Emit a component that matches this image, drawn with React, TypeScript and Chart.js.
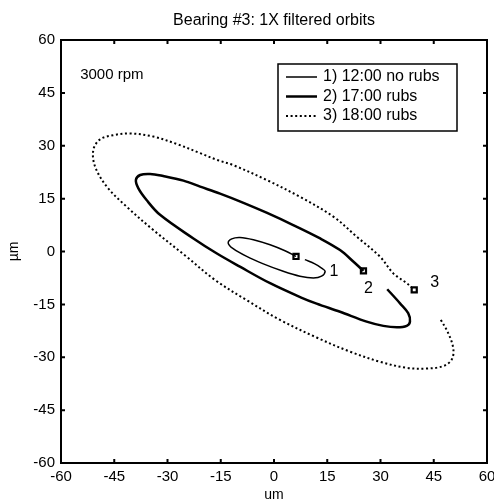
import React, { useEffect, useRef } from "react";
import { Chart, registerables } from "chart.js";

Chart.register(...registerables);

const TITLE = "Bearing #3: 1X filtered orbits";
const X_TITLE = "um";
const Y_TITLE = "µm";
const NOTE = "3000 rpm";
const TICKS = [-60, -45, -30, -15, 0, 15, 30, 45, 60];

const SERIES_LABELS = ["1) 12:00 no rubs", "2) 17:00 rubs", "3) 18:00 rubs"];

const orbit1X = [8.7, 11.5, 13.4, 14.4, 13.4, 11.1, 7.3, 2.6, -3.0, -7.7, -11.5, -12.9, -11.9, -9.6, -5.8, -1.1, 3.1, 6.2];
const orbit1Y = [-2.3, -3.5, -4.7, -5.6, -7.0, -7.5, -7.0, -5.6, -3.5, -1.4, 0.8, 2.4, 3.6, 4.0, 3.35, 1.9, 0.2, -1.4];

const orbit2X = [31.9, 35.5, 37.8, 38.3, 37.4, 34.6, 30.8, 26.1, 18.6, 12.0, 7.5, -1.1, -9.6, -16.2, -22.7, -32.1, -35.9, -38.2, -38.9, -37.7, -34.9, -31.2, -25.5, -20.8, -15.2, -8.6, -2.1, 5.4, 13.0, 18.6, 22.4, 25.2];
const orbit2Y = [-10.7, -14.7, -17.5, -19.9, -21.1, -21.5, -21.1, -19.9, -17.1, -14.8, -13.0, -9.0, -4.3, -0.5, 3.7, 10.4, 14.6, 17.9, 20.3, 21.7, 22.0, 21.4, 20.1, 18.4, 16.4, 13.8, 11.0, 7.5, 3.7, 0.4, -2.9, -5.5];

const orbit3X = [47.0, 49.1, 50.5, 50.1, 47.7, 43.0, 37.4, 29.9, 21.4, 12.0, 1.7, -7.7, -16.6, -24.6, -34.0, -41.5, -47.1, -50.4, -50.9, -49.0, -45.3, -40.6, -34.0, -27.4, -20.8, -16.1, -11.5, -2.1, 7.3, 16.7, 23.3, 29.9, 33.6, 37.4, 39.5];
const orbit3Y = [-19.4, -23.2, -27.5, -30.6, -32.5, -33.2, -33.0, -31.3, -28.4, -24.4, -19.4, -13.8, -8.1, -1.5, 6.1, 12.7, 18.4, 24.1, 28.8, 31.8, 33.0, 33.5, 32.6, 30.5, 27.9, 26.0, 24.5, 20.3, 15.5, 9.9, 4.2, -1.5, -6.2, -9.0, -10.9];

const markerX = [6.2, 25.2, 39.5];
const markerY = [-1.4, -5.5, -10.9];

const tagText = ["1", "2", "3"];
const tagX = [16.9, 26.6, 45.3];
const tagY = [-5.7, -10.4, -8.9];

const noteX = -54.6;
const noteY = 50.1;

const FONT = "'Liberation Sans', Arial, Helvetica, sans-serif";

const widths = [1.5, 2.5, 2];
const dashes: number[][] = [[], [], [2, 2.6]];

function pts(xs: number[], ys: number[]) {
  return xs.map((x, i) => ({ x, y: ys[i] }));
}

const decor = {
  id: "decor",
  afterDatasetsDraw(chart: any) {
    const { ctx, chartArea: a, scales } = chart;
    const sx = scales.x;
    const sy = scales.y;
    ctx.save();
    ctx.strokeStyle = "#000";
    ctx.fillStyle = "#000";
    ctx.lineWidth = 2;
    ctx.setLineDash([]);
    ctx.strokeRect(a.left, a.top, a.right - a.left, a.bottom - a.top);
    ctx.beginPath();
    TICKS.forEach((v) => {
      const px = sx.getPixelForValue(v);
      ctx.moveTo(px, a.bottom);
      ctx.lineTo(px, a.bottom - 4);
      ctx.moveTo(px, a.top);
      ctx.lineTo(px, a.top + 4);
      const py = sy.getPixelForValue(v);
      ctx.moveTo(a.left, py);
      ctx.lineTo(a.left + 4, py);
      ctx.moveTo(a.right, py);
      ctx.lineTo(a.right - 4, py);
    });
    ctx.stroke();
    ctx.font = `16px ${FONT}`;
    ctx.textAlign = "center";
    ctx.textBaseline = "middle";
    ctx.fillText(TITLE, (a.left + a.right) / 2, 21);
    ctx.font = `15px ${FONT}`;
    ctx.textAlign = "left";
    ctx.fillText(NOTE, sx.getPixelForValue(noteX), sy.getPixelForValue(noteY));
    ctx.font = `16px ${FONT}`;
    ctx.textAlign = "center";
    tagText.forEach((t, i) => {
      ctx.fillText(t, sx.getPixelForValue(tagX[i]), sy.getPixelForValue(tagY[i]));
    });
    const lx = a.left + 217;
    const ly = a.top + 24;
    const lw = 179;
    const lh = 67;
    ctx.fillStyle = "#fff";
    ctx.fillRect(lx, ly, lw, lh);
    ctx.lineWidth = 1.5;
    ctx.strokeRect(lx, ly, lw, lh);
    ctx.fillStyle = "#000";
    ctx.textAlign = "left";
    SERIES_LABELS.forEach((lab, i) => {
      const yy = ly + 13 + i * 19.5;
      ctx.beginPath();
      ctx.lineWidth = widths[i];
      ctx.setLineDash(dashes[i]);
      ctx.moveTo(lx + 8, yy);
      ctx.lineTo(lx + 39, yy);
      ctx.stroke();
      ctx.setLineDash([]);
      ctx.fillText(lab, lx + 45, yy);
    });
    ctx.restore();
  },
};

export default function App() {
  const ref = useRef<HTMLCanvasElement>(null);
  useEffect(() => {
    if (!ref.current) return;
    const tickFont = { family: FONT, size: 15 };
    const orbits = [pts(orbit1X, orbit1Y), pts(orbit2X, orbit2Y), pts(orbit3X, orbit3Y)];
    const datasets: any[] = orbits.map((d, i) => ({
      label: SERIES_LABELS[i],
      data: d,
      showLine: true,
      borderColor: "#000",
      borderWidth: widths[i],
      borderDash: dashes[i],
      borderCapStyle: "butt",
      pointRadius: 0,
      tension: 0.35,
      fill: false,
    }));
    datasets.push({
      label: "markers",
      data: pts(markerX, markerY),
      showLine: false,
      pointStyle: "rect",
      pointRadius: 3.6,
      pointBorderWidth: 2.2,
      pointBorderColor: "#000",
      pointBackgroundColor: "#fff",
    });
    const chart = new Chart(ref.current, {
      type: "scatter",
      data: { datasets },
      options: {
        responsive: false,
        animation: false,
        devicePixelRatio: 1,
        layout: { padding: { top: 40, right: 7, left: 0, bottom: 0 } },
        plugins: {
          legend: { display: false },
          tooltip: { enabled: false },
          title: { display: false },
        },
        scales: {
          x: {
            type: "linear",
            position: "bottom",
            min: -60,
            max: 60,
            ticks: { stepSize: 15, font: tickFont, color: "#000", padding: 5, maxRotation: 0 },
            grid: { display: false, drawTicks: false },
            border: { display: false },
            title: { display: true, text: X_TITLE, color: "#000", font: { family: FONT, size: 14 }, padding: { top: 0, bottom: 0 } },
            afterFit: (s: any) => {
              s.height = 41;
              s.paddingLeft = 0;
              s.paddingRight = 0;
            },
          },
          y: {
            type: "linear",
            position: "left",
            min: -60,
            max: 60,
            ticks: { stepSize: 15, font: tickFont, color: "#000", padding: 6 },
            grid: { display: false, drawTicks: false },
            border: { display: false },
            title: { display: true, text: Y_TITLE, color: "#000", font: { family: FONT, size: 14 }, padding: { top: 6, bottom: 0 } },
            afterFit: (s: any) => {
              s.width = 61;
              s.paddingTop = 0;
              s.paddingBottom = 0;
            },
          },
        },
      } as any,
      plugins: [decor],
    });
    return () => chart.destroy();
  }, []);
  return (
    <div style={{ position: "fixed", left: 0, top: 0, width: 494, height: 504, background: "#fff" }}>
      <canvas ref={ref} width={494} height={504} style={{ width: 494, height: 504, display: "block" }} />
    </div>
  );
}
